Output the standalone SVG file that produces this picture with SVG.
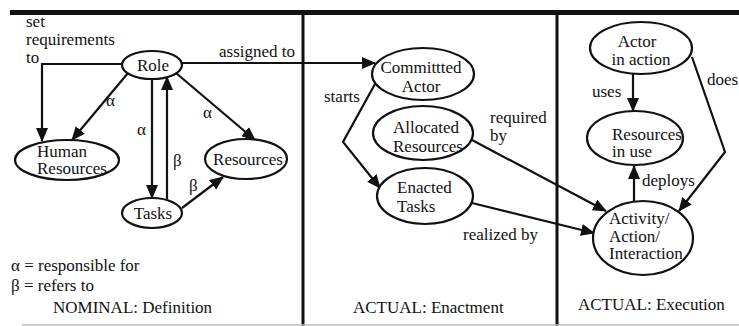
<svg xmlns="http://www.w3.org/2000/svg" width="739" height="326" viewBox="0 0 739 326">
  <style>
    .node ellipse { fill: #fff; stroke: #111; stroke-width: 2.2; }
    .edge { fill: none; stroke: #111; stroke-width: 2.2; }
    .frame { fill: #111; }
    .t { font-family: 'Liberation Serif', serif; font-size: 17px; fill: #111; }
  </style>
  <defs>
    <marker id="arrow" markerUnits="userSpaceOnUse" markerWidth="14" markerHeight="12" refX="13" refY="6" orient="auto">
      <path d="M0,0 L14,6 L0,12 z" fill="#111"/>
    </marker>
  </defs>

  <rect width="739" height="326" fill="#fff"/>

  <!-- panel frame -->
  <g id="frame">
    <rect class="frame" x="10" y="10" width="729" height="5"/>
    <rect class="frame" x="301.5" y="12" width="3" height="314"/>
    <rect class="frame" x="555.5" y="12" width="3" height="314"/>
    <line x1="22" y1="325" x2="739" y2="325" stroke="#bbb" stroke-width="1.5"/>
  </g>

  <!-- connectors -->
  <g id="connectors">
    <polyline class="edge" points="122,64 42,64 42,141" marker-end="url(#arrow)"/>
    <line class="edge" x1="128" y1="73" x2="72" y2="140" marker-end="url(#arrow)"/>
    <line class="edge" x1="176" y1="73" x2="255" y2="140" marker-end="url(#arrow)"/>
    <line class="edge" x1="152" y1="79" x2="152" y2="198" marker-end="url(#arrow)"/>
    <line class="edge" x1="167" y1="199" x2="167" y2="77" marker-end="url(#arrow)"/>
    <line class="edge" x1="182" y1="208" x2="223" y2="177" marker-end="url(#arrow)"/>
    <line class="edge" x1="182" y1="63" x2="375" y2="63" marker-end="url(#arrow)"/>
    <polyline class="edge" points="375,84 343,142 380,188" marker-end="url(#arrow)"/>
    <line class="edge" x1="472" y1="140" x2="606" y2="211" marker-end="url(#arrow)"/>
    <line class="edge" x1="472" y1="203" x2="594" y2="233" marker-end="url(#arrow)"/>
    <line class="edge" x1="633" y1="74" x2="633" y2="111" marker-end="url(#arrow)"/>
    <line class="edge" x1="634" y1="201" x2="634" y2="166" marker-end="url(#arrow)"/>
    <polyline class="edge" points="692,57 725,152 679,211" marker-end="url(#arrow)"/>
  </g>

  <!-- connector labels (Greek letters written as character references) -->
  <g id="labels">
    <text class="t" x="26" y="27">set</text>
    <text class="t" x="26" y="45">requirements</text>
    <text class="t" x="26" y="63">to</text>
    <text class="t" x="106" y="106">&#945;</text>
    <text class="t" x="203" y="118">&#945;</text>
    <text class="t" x="137" y="135">&#945;</text>
    <text class="t" x="173" y="166">&#946;</text>
    <text class="t" x="189" y="191">&#946;</text>
    <text class="t" x="219" y="57">assigned to</text>
    <text class="t" x="324" y="102">starts</text>
    <text class="t" x="490" y="123">required</text>
    <text class="t" x="490" y="141">by</text>
    <text class="t" x="463" y="240">realized by</text>
    <text class="t" x="592" y="97">uses</text>
    <text class="t" x="642" y="186">deploys</text>
    <text class="t" x="707" y="85">does</text>
  </g>

  <!-- NOMINAL panel -->
  <g id="role" class="node">
    <ellipse cx="152" cy="65" rx="30" ry="14"/>
    <text class="t" x="153" y="71" text-anchor="middle">Role</text>
  </g>
  <g id="human-resources" class="node">
    <ellipse cx="67" cy="160" rx="52" ry="20"/>
    <text class="t" x="37" y="157">Human</text>
    <text class="t" x="37" y="174">Resources</text>
  </g>
  <g id="resources" class="node">
    <ellipse cx="246" cy="159" rx="41" ry="20"/>
    <text class="t" x="248" y="165" text-anchor="middle">Resources</text>
  </g>
  <g id="tasks" class="node">
    <ellipse cx="152" cy="213" rx="30" ry="15"/>
    <text class="t" x="153" y="219" text-anchor="middle">Tasks</text>
  </g>

  <!-- ACTUAL: Enactment panel -->
  <g id="committed-actor" class="node">
    <ellipse cx="423" cy="74" rx="51" ry="26"/>
    <text class="t" x="421" y="73" text-anchor="middle">Committted</text>
    <text class="t" x="421" y="92" text-anchor="middle">Actor</text>
  </g>
  <g id="allocated-resources" class="node">
    <ellipse cx="423" cy="133" rx="50" ry="27"/>
    <text class="t" x="393" y="133">Allocated</text>
    <text class="t" x="393" y="152">Resources</text>
  </g>
  <g id="enacted-tasks" class="node">
    <ellipse cx="425" cy="196" rx="48" ry="28"/>
    <text class="t" x="397" y="193">Enacted</text>
    <text class="t" x="397" y="212">Tasks</text>
  </g>

  <!-- ACTUAL: Execution panel -->
  <g id="actor-in-action" class="node">
    <ellipse cx="641" cy="48" rx="51" ry="26"/>
    <text class="t" x="637" y="47" text-anchor="middle">Actor</text>
    <text class="t" x="641" y="65" text-anchor="middle">in action</text>
  </g>
  <g id="resources-in-use" class="node">
    <ellipse cx="635" cy="138" rx="48" ry="27"/>
    <text class="t" x="612" y="140">Resources</text>
    <text class="t" x="612" y="157">in use</text>
  </g>
  <g id="activity" class="node">
    <ellipse cx="643" cy="238" rx="50" ry="37"/>
    <text class="t" x="609" y="224">Activity/</text>
    <text class="t" x="609" y="242">Action/</text>
    <text class="t" x="609" y="259">Interaction</text>
  </g>

  <!-- legend and panel titles -->
  <g id="legend">
    <text class="t" x="11" y="271">&#945; = responsible for</text>
    <text class="t" x="11" y="291">&#946; = refers to</text>
    <text class="t" x="53" y="313">NOMINAL: Definition</text>
    <text class="t" x="353" y="313">ACTUAL: Enactment</text>
    <text class="t" x="578" y="310">ACTUAL:  Execution</text>
  </g>
</svg>
